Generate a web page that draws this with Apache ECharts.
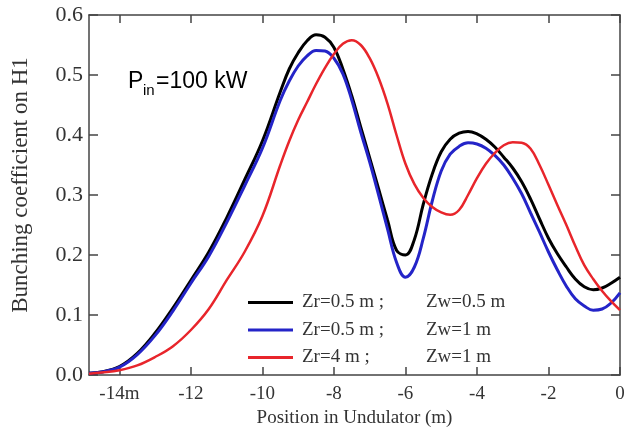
<!doctype html>
<html>
<head>
<meta charset="utf-8">
<title>bunching</title>
<script src="https://cdn.jsdelivr.net/npm/echarts@6/dist/echarts.min.js"></script>
<style>
  html, body { margin: 0; padding: 0; background: #fff; }
  #chart { width: 628px; height: 443px; }
</style>
</head>
<body>
<div id="chart"></div>
<script>
// position in undulator (m)
var positions = [-14.85, -14.5, -14, -13.5, -13, -12.5, -12, -11.5, -11, -10.5, -10,
  -9.5, -9.25, -9, -8.75, -8.5, -8.25, -8, -7.75, -7.5, -7.25, -7, -6.75, -6.5, -6.25, -6, -5.75,
  -5.5, -5.25, -5, -4.75, -4.5, -4.25, -4, -3.75, -3.5, -3.25, -3, -2.75, -2.5, -2.25, -2, -1.75,
  -1.5, -1.25, -1, -0.75, -0.5, -0.25, 0];

// Zr=0.5 m ; Zw=0.5 m  (black)
var zr05zw05 = [0.003, 0.005, 0.014, 0.036, 0.07, 0.112, 0.158, 0.205, 0.262, 0.325, 0.39,
  0.472, 0.51, 0.537, 0.557, 0.567, 0.563, 0.546, 0.51, 0.465, 0.413, 0.362, 0.31, 0.258, 0.208, 0.2, 0.226,
  0.285, 0.335, 0.372, 0.393, 0.403, 0.406, 0.402, 0.393, 0.38, 0.363, 0.345, 0.322, 0.293, 0.26, 0.228, 0.202,
  0.18, 0.16, 0.147, 0.142, 0.145, 0.153, 0.163];

// Zr=0.5 m ; Zw=1 m  (blue)
var zr05zw1 = [0.003, 0.005, 0.013, 0.034, 0.066, 0.107, 0.153, 0.198, 0.254, 0.315, 0.378,
  0.458, 0.49, 0.515, 0.532, 0.541, 0.54, 0.528, 0.502, 0.458, 0.405, 0.355, 0.3, 0.243, 0.188, 0.163, 0.18,
  0.228, 0.29, 0.34, 0.368, 0.381, 0.387, 0.385, 0.378, 0.366, 0.35, 0.328, 0.302, 0.27, 0.238, 0.205, 0.175,
  0.148, 0.127, 0.115, 0.108, 0.11, 0.12, 0.137];

// Zr=4 m ; Zw=1 m  (red)
var zr4zw1 = [0.002, 0.004, 0.008, 0.016, 0.03, 0.048, 0.075, 0.11, 0.158, 0.205, 0.265,
  0.35, 0.39, 0.425, 0.455, 0.485, 0.512, 0.535, 0.552, 0.558, 0.55, 0.528, 0.495, 0.452, 0.4, 0.352, 0.318,
  0.295, 0.28, 0.271, 0.267, 0.275, 0.3, 0.328, 0.352, 0.37, 0.383, 0.388, 0.387, 0.377, 0.35, 0.317, 0.283,
  0.25, 0.215, 0.183, 0.16, 0.14, 0.123, 0.108];

var xTicks = [-14, -12, -10, -8, -6, -4, -2, 0];
var xTickLabels = ['-14m', '-12', '-10', '-8', '-6', '-4', '-2', '0'];

var legendA = ['Zr=0.5 m ;', 'Zr=0.5 m ;', 'Zr=4 m ;'];
var legendB = ['Zw=0.5 m', 'Zw=1 m', 'Zw=1 m'];
var names = ['s1', 's2', 's3'];
var colors = ['#000000', '#2424c8', '#e8252b'];

function pairs(vals) {
  return positions.map(function (x, i) { return [x, vals[i]]; });
}

var serif = 'Liberation Serif';
var axisCol = '#444';
var textCol = '#333';

var chart = echarts.init(document.getElementById('chart'));

function xAxisCfg(pos, withLabels) {
  return {
    type: 'value',
    position: pos,
    min: -14.85,
    max: 0,
    name: withLabels ? 'Position in Undulator (m)' : '',
    nameLocation: 'middle',
    nameGap: 33,
    nameTextStyle: { fontFamily: serif, fontSize: 19, color: textCol },
    axisLine: { show: true, onZero: false, lineStyle: { color: axisCol, width: 1.5 } },
    axisTick: { show: true, inside: true, length: 8, customValues: xTicks, lineStyle: { color: axisCol, width: 1.5 } },
    axisLabel: {
      show: true,
      customValues: xTicks,
      margin: 10,
      fontFamily: serif, fontSize: 19, color: textCol,
      formatter: function (v) { return withLabels ? xTickLabels[xTicks.indexOf(v)] : ''; }
    },
    splitLine: { show: false }
  };
}

function yAxisCfg(pos, withLabels) {
  return {
    type: 'value',
    position: pos,
    min: 0,
    max: 0.6,
    interval: 0.1,
    axisLine: { show: true, onZero: false, lineStyle: { color: axisCol, width: 1.5 } },
    axisTick: { show: true, inside: true, length: 9, lineStyle: { color: axisCol, width: 1.5 } },
    axisLabel: {
      show: withLabels,
      margin: 6,
      fontFamily: serif, fontSize: 22, color: textCol,
      formatter: function (v) { return v.toFixed(1); }
    },
    splitLine: { show: false }
  };
}

var option = {
  backgroundColor: '#fff',
  animation: false,
  grid: { left: 89, right: 8, top: 15, bottom: 68 },
  legend: {
    orient: 'vertical',
    left: 248,
    top: 293,
    padding: 0,
    icon: 'rect',
    itemWidth: 45,
    itemHeight: 3,
    itemGap: 8.5,
    data: names,
    formatter: function (n) {
      var i = names.indexOf(n);
      return '{a|' + legendA[i] + '}{b|' + legendB[i] + '}';
    },
    textStyle: {
      rich: {
        a: { fontFamily: serif, fontSize: 19, color: textCol, width: 124, lineHeight: 22, padding: [0, 0, 0, 4] },
        b: { fontFamily: serif, fontSize: 19, color: textCol, lineHeight: 22 }
      }
    }
  },
  xAxis: [xAxisCfg('bottom', true), xAxisCfg('top', false)],
  yAxis: [yAxisCfg('left', true), yAxisCfg('right', false)],
  graphic: [{
    type: 'text',
    x: 21,
    y: 185,
    rotation: Math.PI / 2,
    style: {
      text: 'Bunching coefficient on H1',
      font: '23px "Liberation Serif"',
      fill: textCol,
      textAlign: 'center',
      textVerticalAlign: 'middle'
    }
  }, {
    type: 'text',
    x: 128,
    y: 93,
    style: { text: 'P', font: '23px "Liberation Sans"', fill: '#000', textVerticalAlign: 'bottom' }
  }, {
    type: 'text',
    x: 143,
    y: 98,
    style: { text: 'in', font: '15px "Liberation Sans"', fill: '#000', textVerticalAlign: 'bottom' }
  }, {
    type: 'text',
    x: 156,
    y: 93,
    style: { text: '=100 kW', font: '23px "Liberation Sans"', fill: '#000', textVerticalAlign: 'bottom' }
  }],
  series: [
    { name: names[0], type: 'line', smooth: 0.4, symbol: 'none', data: pairs(zr05zw05),
      lineStyle: { color: colors[0], width: 3 }, itemStyle: { color: colors[0] } },
    { name: names[1], type: 'line', smooth: 0.4, symbol: 'none', data: pairs(zr05zw1),
      lineStyle: { color: colors[1], width: 3 }, itemStyle: { color: colors[1] } },
    { name: names[2], type: 'line', smooth: 0.4, symbol: 'none', data: pairs(zr4zw1),
      lineStyle: { color: colors[2], width: 2.5 }, itemStyle: { color: colors[2] } }
  ]
};

chart.setOption(option);
</script>
</body>
</html>
